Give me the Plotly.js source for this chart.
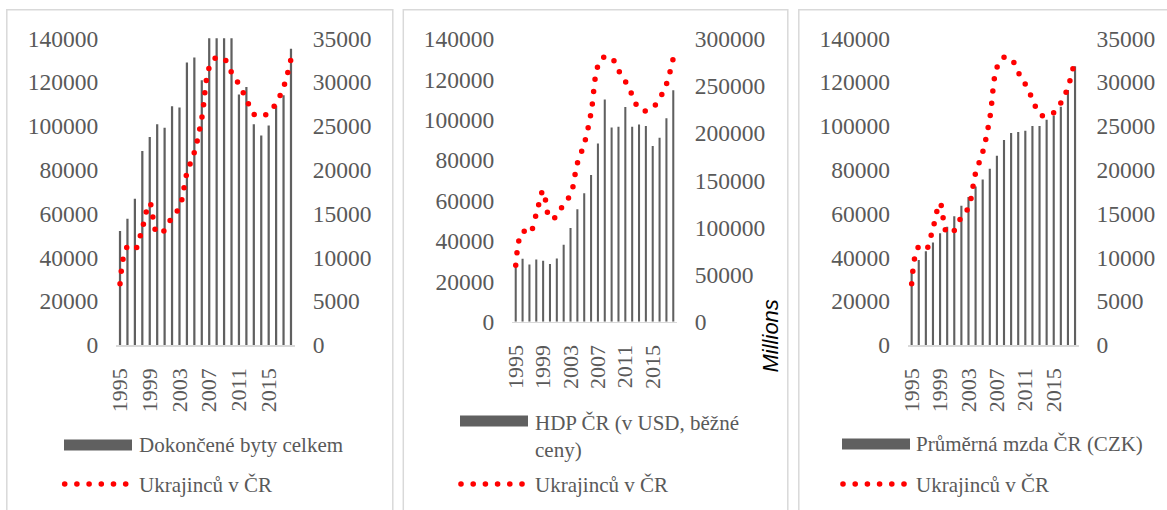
<!DOCTYPE html>
<html>
<head>
<meta charset="utf-8">
<script src="https://cdn.plot.ly/plotly-3.0.1.min.js"></script>
<style>
  html, body { margin: 0; padding: 0; background: #ffffff; }
  #chart { width: 1167px; height: 510px; }
</style>
</head>
<body>
<div id="chart"></div>
<script>
// ---- Data ----
const years = [1995, 1996, 1997, 1998, 1999, 2000, 2001, 2002, 2003, 2004, 2005, 2006,
               2007, 2008, 2009, 2010, 2011, 2012, 2013, 2014, 2015, 2016, 2017, 2018];
const tickYears = [1995, 1999, 2003, 2007, 2011, 2015];
const tickYearLabels = ["1995", "1999", "2003", "2007", "2011", "2015"];

// Ukrajinců v ČR (left axis in every panel)
const ukrajincu = [28000, 44800, 43600, 53300, 64800, 51000, 52300, 58500, 62800, 78500, 88000, 103500,
                   126600, 131300, 130700, 124500, 119000, 112300, 105400, 104400, 106000, 110500, 117700, 130500];

// Dokončené byty celkem (right axis, panel 1; 2007-2010 run past the axis top)
const dokonceneByty = [13000, 14400, 16700, 22150, 23750, 25200, 24800, 27250, 27100, 32250, 32800, 30200,
                       41600, 38400, 38500, 36400, 28600, 29450, 25200, 23900, 25050, 27300, 28500, 33800];

// HDP ČR (v USD, běžné ceny), millions (right axis, panel 2)
const hdpUsd = [61000, 66900, 60800, 66100, 64700, 61200, 67200, 81700, 99400, 119200, 136200, 155600,
                189200, 235900, 206200, 206900, 227800, 206900, 209400, 207600, 186400, 195300, 215800, 245500];

// Průměrná mzda ČR (CZK) (right axis, panel 3)
const prumernaMzda = [8300, 9700, 10700, 11700, 12750, 13500, 14700, 15900, 16900, 18100, 18900, 20100,
                      21600, 23400, 24200, 24300, 24450, 25000, 25000, 25700, 26200, 27200, 29100, 31800];

const barNames = ["Dokončené byty celkem", "HDP ČR (v USD, běžné<br>ceny)", "Průměrná mzda ČR (CZK)"];
const lineName = "Ukrajinců v ČR";

// ---- Styling helpers ----
const W = 1167, H = 510;
const px = x => x / W;
const py = y => 1 - y / H;
const SERIF = "Liberation Serif";
const GREY_TEXT = "#595959";
const BAR_COLOR = "#606060";
const RED = "#ff0000";
const DOT_DASH = "0px,12.2px";

function barTrace(vals, xa, ya, name) {
  return { type: "bar", x: years, y: vals, xaxis: xa, yaxis: ya, name: name,
           width: 0.3, marker: { color: BAR_COLOR, line: { width: 0 } },
           showlegend: false, hoverinfo: "x+y" };
}
function lineTrace(xa, ya) {
  return { type: "scatter", mode: "lines", x: years, y: ukrajincu, xaxis: xa, yaxis: ya,
           name: lineName, line: { color: RED, width: 5.5, dash: DOT_DASH, shape: "spline", smoothing: 1 },
           showlegend: false, hoverinfo: "x+y" };
}

const data = [
  barTrace(dokonceneByty, "x", "y", barNames[0]),
  lineTrace("x", "y2"),
  barTrace(hdpUsd, "x2", "y3", barNames[1]),
  lineTrace("x2", "y4"),
  barTrace(prumernaMzda, "x3", "y5", barNames[2]),
  lineTrace("x3", "y6")
];

function xAxis(d, anchor) {
  return { domain: d, anchor: anchor, range: [1994.5, 2018.5],
           tickmode: "array", tickvals: tickYears, ticktext: tickYearLabels, tickangle: -90,
           showline: true, linecolor: "#d9d9d9", linewidth: 1.5, showgrid: false, zeroline: false,
           ticks: "", ticklabelstandoff: 13,
           tickfont: { family: SERIF, size: 22, color: GREY_TEXT }, fixedrange: true };
}
function yAxis(d, anchor, side, max, dtick, overlay) {
  const a = { anchor: anchor, side: side, range: [0, max], tick0: 0, dtick: dtick,
              tickformat: "d", exponentformat: "none",
              showline: false, showgrid: false, zeroline: false, ticks: "",
              ticklabelstandoff: 17,
              tickfont: { family: SERIF, size: 23.5, color: GREY_TEXT }, fixedrange: true };
  if (overlay) a.overlaying = overlay; else a.domain = d;
  return a;
}

const dom1x = [px(116.3), px(294.7)], dom1y = [py(345), py(38.3)];
const dom2x = [px(512.3), px(676.7)], dom2y = [py(321.7), py(39)];
const dom3x = [px(908.1), px(1078.6)], dom3y = [py(345), py(38.3)];

// ---- Legends drawn as shapes + text ----
const shapes = [];
const annotations = [];
function panelBorder(x0, x1) {
  shapes.push({ type: "rect", xref: "paper", yref: "paper", x0: px(x0), x1: px(x1), y0: py(520), y1: py(9.8),
                line: { color: "#d9d9d9", width: 1.5 }, fillcolor: "rgba(0,0,0,0)", layer: "below" });
}
panelBorder(6.8, 392.8);
panelBorder(403.3, 787.8);
panelBorder(798.8, 1180);

function barSwatch(x0, x1, yc) {
  shapes.push({ type: "rect", xref: "paper", yref: "paper", x0: px(x0), x1: px(x1), y0: py(yc + 5.5), y1: py(yc - 5.5),
                line: { width: 0 }, fillcolor: BAR_COLOR });
}
function dotSwatch(x0, yc) {
  for (let i = 0; i < 6; i++) {
    const cx = x0 + i * 12.2, r = 2.8;
    shapes.push({ type: "circle", xref: "paper", yref: "paper", x0: px(cx - r), x1: px(cx + r), y0: py(yc + r), y1: py(yc - r),
                  line: { width: 0 }, fillcolor: RED });
  }
}
function legendText(txt, x, y, anchorY) {
  annotations.push({ xref: "paper", yref: "paper", x: px(x), y: py(y), xanchor: "left", yanchor: anchorY || "middle",
                     text: txt, showarrow: false, align: "left",
                     font: { family: SERIF, size: 21, color: GREY_TEXT } });
}
// Panel 1
barSwatch(64, 132, 445);
legendText(barNames[0], 137, 445);
dotSwatch(64.7, 484);
legendText(lineName, 137, 485);
// Panel 2
barSwatch(460, 528, 421);
legendText(barNames[1], 533, 409, "top");
dotSwatch(461, 484);
legendText(lineName, 533, 485);
// Panel 3
barSwatch(842, 910, 444);
legendText(barNames[2], 914, 444);
dotSwatch(843, 484);
legendText(lineName, 914, 485);

// "Millions" display-unit label for the GDP axis
annotations.push({ xref: "paper", yref: "paper", x: px(769.5), y: py(336), xanchor: "center", yanchor: "middle",
                   text: "Millions", textangle: -90, showarrow: false,
                   font: { family: "Liberation Sans", size: 22, color: "#000000", style: "italic" } });

const layout = {
  width: W, height: H,
  margin: { l: 0, r: 0, t: 0, b: 0, pad: 0 },
  paper_bgcolor: "#ffffff", plot_bgcolor: "rgba(0,0,0,0)",
  showlegend: false,
  xaxis: xAxis(dom1x, "y"),
  yaxis: yAxis(dom1y, "x", "right", 35000, 5000),
  yaxis2: yAxis(dom1y, "x", "left", 140000, 20000, "y"),
  xaxis2: xAxis(dom2x, "y3"),
  yaxis3: yAxis(dom2y, "x2", "right", 300000, 50000),
  yaxis4: yAxis(dom2y, "x2", "left", 140000, 20000, "y3"),
  xaxis3: xAxis(dom3x, "y5"),
  yaxis5: yAxis(dom3y, "x3", "right", 35000, 5000),
  yaxis6: yAxis(dom3y, "x3", "left", 140000, 20000, "y5"),
  shapes: shapes,
  annotations: annotations,
  font: { family: SERIF, color: GREY_TEXT }
};

function roundDots() {
  document.querySelectorAll("#chart .scatterlayer path.js-line").forEach(p => {
    p.style.strokeLinecap = "round";
  });
}
Plotly.newPlot("chart", data, layout, { displayModeBar: false, staticPlot: true }).then(gd => {
  roundDots();
  gd.on("plotly_afterplot", roundDots);
});
</script>
</body>
</html>
